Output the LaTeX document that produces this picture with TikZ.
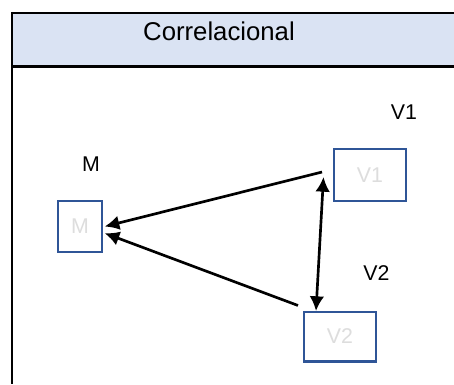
\documentclass[tikz,border=0pt]{standalone}
\usepackage{fontspec}
\setmainfont{Liberation Sans}
\usepackage{xcolor}
\usetikzlibrary{arrows.meta}
\usetikzlibrary{calc}

\definecolor{headfill}{HTML}{DAE3F3}
\definecolor{boxblue}{HTML}{2F5597}
\definecolor{ghost}{HTML}{DDDDDD}

\tikzset{
    varbox/.style={draw=boxblue, line width=2pt, fill=white, inner sep=0pt,
        text=ghost, font=\fontsize{16}{18}\selectfont},
    varlabel/.style={inner sep=0pt, font=\fontsize{16}{18}\selectfont},
    arr/.style={line width=2pt, -{Latex[length=11pt,width=11pt]}},
    dblarr/.style={line width=2pt, {Latex[length=11pt,width=11pt]}-{Latex[length=11pt,width=11pt]}}
}

\begin{document}
\begin{tikzpicture}[x=0.75pt,y=-0.75pt]
        \newcommand{\figcorrwidth}{454}
        \newcommand{\figcorrheight}{385}
        \newcommand{\figcorrframex}{12}
        \newcommand{\figcorrheadtop}{13}
        \newcommand{\figcorrheadbot}{66.5}
        \useasboundingbox (0,0) rectangle (\figcorrwidth,\figcorrheight);
        % table frame
        \fill[headfill] (\figcorrframex,\figcorrheadtop) rectangle (\figcorrwidth+5,\figcorrheadbot);
        \draw[line width=2.2pt] (\figcorrframex,\figcorrheadtop) -- (\figcorrwidth+5,\figcorrheadtop);
        \draw[line width=2.2pt] (\figcorrframex,\figcorrheadbot) -- (\figcorrwidth+5,\figcorrheadbot);
        \draw[line width=2.2pt] (\figcorrframex,\figcorrheadtop-1) -- (\figcorrframex,\figcorrheight-1);
        \node[inner sep=0pt, font=\fontsize{19.3}{21}\selectfont] (title) at (219,31.5) {Correlacional};
        % boxes
        \node[varbox, minimum width=33pt, minimum height=38pt] (m) at (80,226.5) {M};
        \node[varbox, minimum width=54pt, minimum height=39pt] (v1) at (370,175) {V1};
        \node[varbox, minimum width=54pt, minimum height=37pt] (v2) at (340,336.5) {V2};
        \node[varlabel] (mlab) at (91,164.5) {M};
        \node[varlabel] (v1lab) at (404,112.5) {V1};
        \node[varlabel] (v2lab) at (376.5,273) {V2};
        % arrows
        \coordinate (v1out) at (322,172);
        \coordinate (v2out) at (298,305.5);
        \coordinate (v1in) at (323.5,177);
        \coordinate (v2in) at (316,311);
        \draw[arr] (v1out) -- ([xshift=1pt]m.east);
        \draw[arr] (v2out) -- ([xshift=1pt,yshift=-5pt]m.east);
        \draw[dblarr] (v1in) -- (v2in);
\end{tikzpicture}
\end{document}
